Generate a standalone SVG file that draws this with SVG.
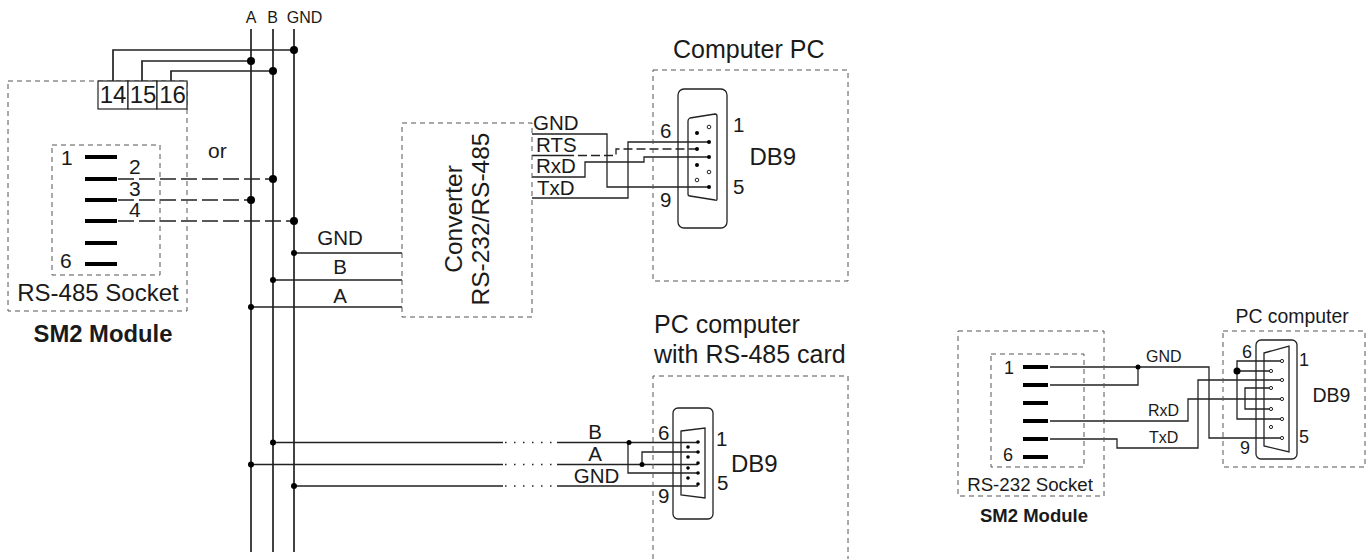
<svg xmlns="http://www.w3.org/2000/svg" width="1372" height="559" viewBox="0 0 1372 559">
<style>
text{font-family:"Liberation Sans",Arial,sans-serif;fill:#1a1a1a}
.w{fill:none;stroke:#222;stroke-width:1.7}
.t{fill:none;stroke:#222;stroke-width:1.3}
.d{fill:none;stroke:#222;stroke-width:1.7;stroke-dasharray:16 5}
.b{fill:none;stroke:#555;stroke-width:1;stroke-dasharray:5 4}
.p{fill:none;stroke:#000;stroke-width:4}
.k{fill:#000}
.o{fill:none;stroke:#222;stroke-width:1.3}
.m{text-anchor:middle}
</style>
<rect width="1372" height="559" fill="#fff"/>
<g id="connectors">
<path class="w" d="M251 29V552M273 29V552M294 29V552"/>
<path class="w" d="M113 81V50H294M142 81V61H251M171 81V71H273"/>
<path class="d" d="M118 179H273M118 200H251M118 221H294"/>
<path class="w" d="M294 253H402M273 280H402M251 307H402"/>
<path class="t" d="M532 134H607V187H709M532 177H585V162H644V157H709M532 198H628V142H709M532 155.500H565"/>
<path class="t" style="stroke-dasharray:9 4" d="M565 155.500H616V149H697"/>
<path class="w" d="M273 442.500H503M251 464.500H503M294 486H503"/>
<path class="w" style="stroke-dasharray:1.500 7.500" d="M505 442.500H552M505 464.500H552M505 486H552"/>
<path class="t" d="M557 442.500H698M557 464.500H698M557 486H698M628 442.500V473H698M642 464.500V452H698"/>
<path class="t" d="M1050 367H1209V438H1282M1138 367V385H1050M1050 421H1188V399H1282M1050 439H1117V448H1198V380H1282"/>
<path class="t" d="M1282 361H1237V419H1282M1237 371H1271M1271 388H1245V409H1271"/>
<g class="k">
<circle cx="294" cy="50" r="4"/><circle cx="251" cy="61" r="4"/><circle cx="273" cy="71" r="4"/>
<circle cx="273" cy="179" r="4"/><circle cx="251" cy="200" r="4"/><circle cx="294" cy="221" r="4"/>
<circle cx="294" cy="253" r="3"/><circle cx="273" cy="280" r="3"/><circle cx="251" cy="307" r="3"/>
<circle cx="273" cy="442.500" r="3"/><circle cx="251" cy="464.500" r="3"/><circle cx="294" cy="486" r="3"/>
<circle cx="629" cy="442.500" r="2.500"/><circle cx="642" cy="464.500" r="2.500"/>
<circle cx="1138" cy="367" r="2.500"/><circle cx="1237" cy="371" r="3.500"/>
</g>
</g>
<g id="sm2-rs485">
<rect class="b" x="8" y="81" width="179" height="230"/>
<rect class="b" x="52" y="145" width="108" height="130"/>
<g fill="#fff" stroke="#222" stroke-width="1.2"><rect x="98" y="81" width="30" height="28"/><rect x="128" y="81" width="29" height="28"/><rect x="157" y="81" width="30" height="28"/></g>
<text class="m" x="113" y="103" font-size="24">14</text><text class="m" x="143" y="103" font-size="24">15</text><text class="m" x="172.500" y="103" font-size="24">16</text>
<path class="p" d="M85 157H117M85 179H117M85 200H117M85 221H117M85 243H117M85 264H117"/>
<g font-size="21"><text x="61" y="165">1</text><text x="129" y="174">2</text><text x="129" y="196">3</text><text x="129" y="217">4</text><text x="60" y="268">6</text></g>
<text class="m" x="98" y="301" font-size="24">RS-485 Socket</text>
<text class="m" x="103" y="342" font-size="23.800" font-weight="bold">SM2 Module</text>
<text x="208" y="158" font-size="21">or</text>
</g>
<g id="bus-labels" font-size="16">
<text class="m" x="251" y="23">A</text><text class="m" x="272.500" y="23">B</text><text class="m" x="304.500" y="23">GND</text>
<text class="m" x="340" y="245" font-size="20.500">GND</text><text class="m" x="340" y="274" font-size="20.500">B</text><text class="m" x="340" y="302.500" font-size="20.500">A</text>
</g>
<g id="converter">
<rect class="b" x="402" y="123" width="130" height="194"/>
<text class="m" transform="translate(462 219) rotate(-90)" font-size="24.500">Converter</text>
<text class="m" transform="translate(489 219) rotate(-90)" font-size="24.500">RS-232/RS-485</text>
<g font-size="20.500"><text x="533" y="130">GND</text><text x="536" y="152">RTS</text><text x="536" y="173">RxD</text><text x="537" y="195">TxD</text></g>
</g>
<g id="computer-pc">
<rect class="b" x="653" y="70" width="195" height="211"/>
<text x="673" y="58" font-size="25">Computer PC</text>
<rect class="o" x="678" y="89" width="49" height="139" rx="6"/>
<path class="o" d="M688 121Q688 119 690 118L715 114Q717 114 717 116V199Q717 201 715 200L690 196Q688 196 688 194Z"/>
<g class="k"><circle cx="709" cy="142" r="2"/><circle cx="709" cy="157" r="2"/><circle cx="709" cy="187" r="2"/><circle cx="697" cy="133" r="2"/><circle cx="697" cy="149" r="2"/><circle cx="697" cy="165" r="2"/></g>
<g fill="#fff" stroke="#222"><circle cx="709" cy="127" r="1.800"/><circle cx="709" cy="172" r="1.800"/><circle cx="697" cy="180" r="1.800"/></g>
<g font-size="20.500"><text x="733" y="132">1</text><text x="660" y="138">6</text><text x="733" y="194">5</text><text x="660" y="207">9</text></g>
<text x="749.500" y="165" font-size="24">DB9</text>
</g>
<g id="pc-rs485">
<path class="b" d="M653 559V376H848V559"/>
<text x="654" y="333" font-size="25">PC computer</text>
<text x="654" y="363" font-size="25">with RS-485 card</text>
<rect class="o" x="673" y="408" width="40" height="111" rx="5"/>
<path class="o" d="M681 431L705 428V498L681 495Z"/>
<g class="k"><circle cx="698" cy="442" r="1.800"/><circle cx="698" cy="452" r="1.800"/><circle cx="698" cy="463" r="1.800"/><circle cx="698" cy="473" r="1.800"/><circle cx="698" cy="484" r="1.800"/><circle cx="688" cy="447" r="1.800"/><circle cx="688" cy="457" r="1.800"/><circle cx="688" cy="468" r="1.800"/><circle cx="688" cy="478" r="1.800"/></g>
<g font-size="20.500"><text x="716" y="446">1</text><text x="658" y="440">6</text><text x="717" y="490">5</text><text x="658" y="503">9</text></g>
<text x="731" y="472" font-size="24">DB9</text>
<g font-size="20.500"><text class="m" x="595" y="439">B</text><text class="m" x="595" y="461">A</text><text class="m" x="596.500" y="483">GND</text></g>
</g>
<g id="sm2-rs232">
<rect class="b" x="958" y="331" width="146" height="165"/>
<rect class="b" x="991" y="354" width="93" height="113"/>
<path class="p" d="M1023 367H1048M1023 385H1048M1023 403H1048M1023 421H1048M1023 439H1048M1023 457H1048"/>
<g font-size="18"><text x="1004" y="374">1</text><text x="1003" y="461">6</text></g>
<text class="m" x="1030" y="491" font-size="18.700">RS-232 Socket</text>
<text class="m" x="1034" y="522" font-size="18.500" font-weight="bold">SM2 Module</text>
<g font-size="16"><text x="1146" y="362">GND</text><text x="1148" y="416">RxD</text><text x="1149" y="443">TxD</text></g>
</g>
<g id="pc-computer">
<rect class="b" x="1223" y="331" width="142" height="136"/>
<text x="1235.500" y="323" font-size="19.400">PC computer</text>
<rect class="o" x="1256" y="340" width="41" height="119" rx="5"/>
<path class="o" d="M1264 353L1289 346V452L1264 446Z"/>
<g fill="#fff" stroke="#222"><circle cx="1282" cy="361" r="1.600"/><circle cx="1282" cy="380" r="1.600"/><circle cx="1282" cy="399" r="1.600"/><circle cx="1282" cy="419" r="1.600"/><circle cx="1282" cy="438" r="1.600"/><circle cx="1271" cy="371" r="1.600"/><circle cx="1271" cy="388" r="1.600"/><circle cx="1271" cy="409" r="1.600"/><circle cx="1271" cy="427" r="1.600"/></g>
<g font-size="18"><text x="1299" y="366">1</text><text x="1242" y="358">6</text><text x="1299" y="443">5</text><text x="1240" y="454">9</text></g>
<text x="1312.500" y="402" font-size="19.500">DB9</text>
</g>
</svg>
